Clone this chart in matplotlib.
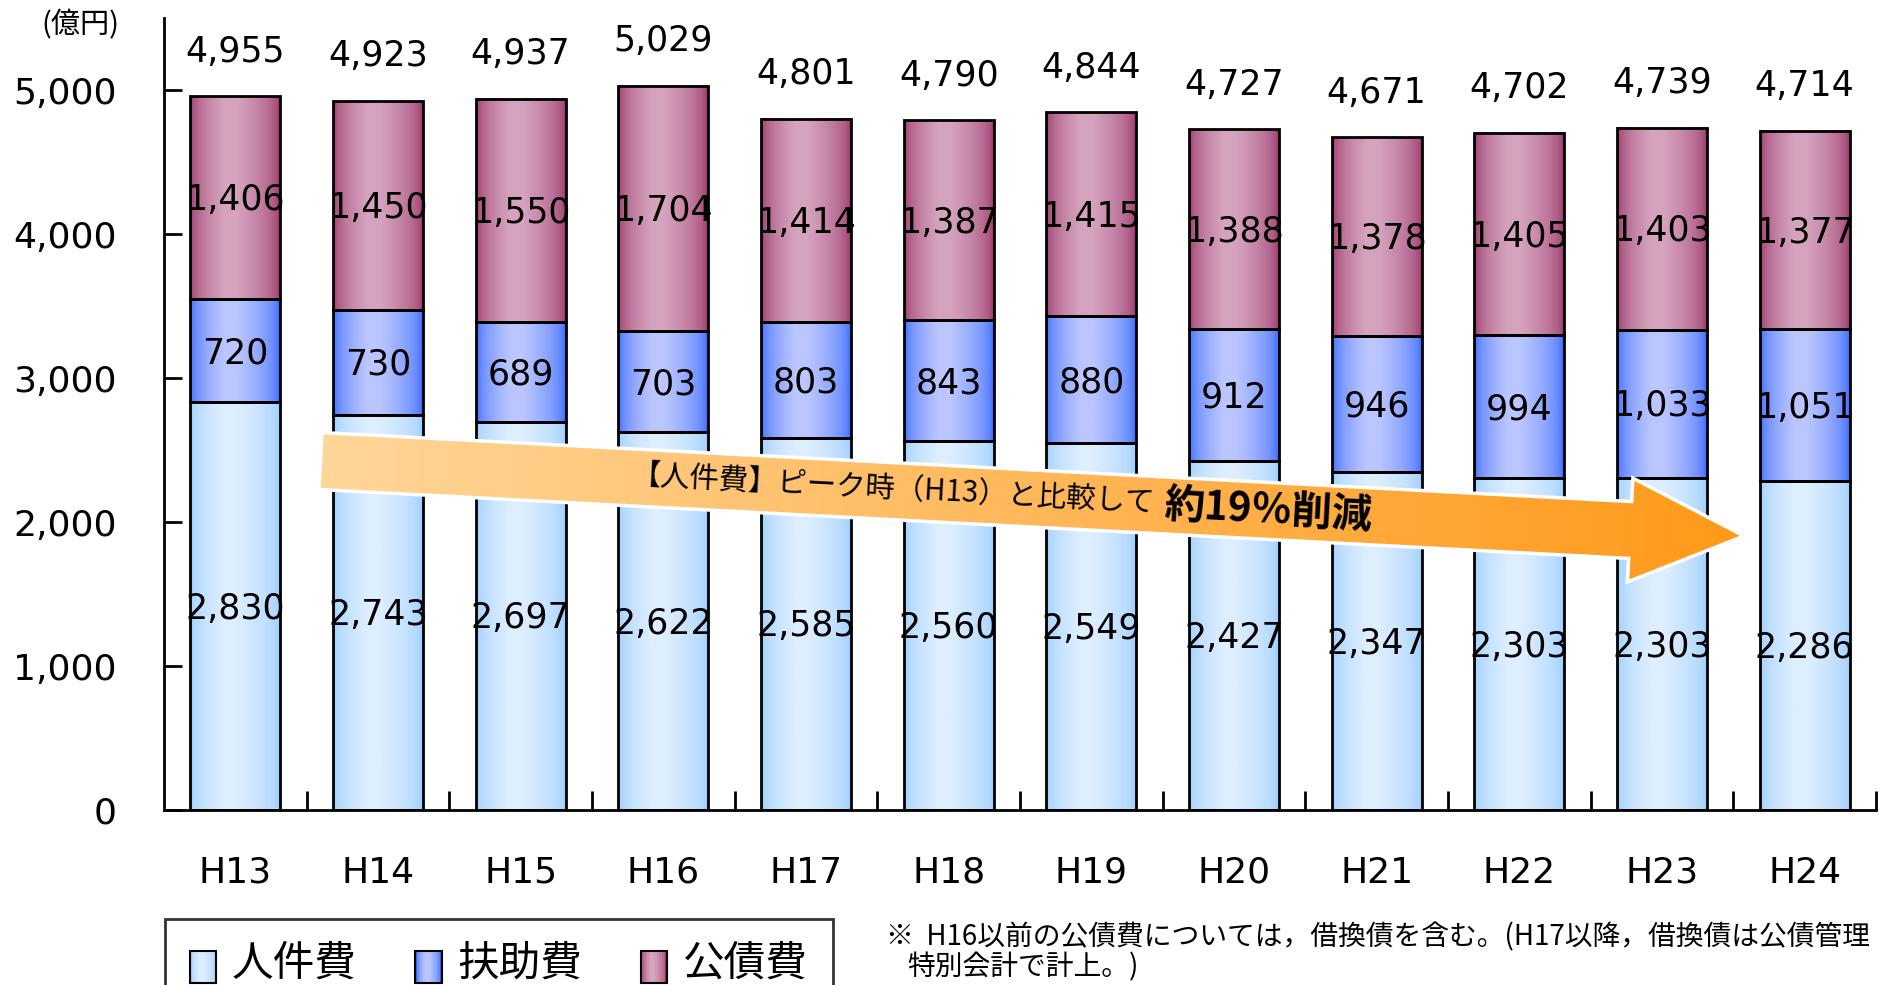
import numpy as np
import matplotlib
matplotlib.use("Agg")
import matplotlib.pyplot as plt
from matplotlib.patches import Rectangle, Polygon
from matplotlib.legend_handler import HandlerBase
from matplotlib.colors import to_rgb

plt.rcParams['font.family'] = ['DejaVu Sans', 'Noto Sans CJK JP']

# data (億円)
years = ['H13', 'H14', 'H15', 'H16', 'H17', 'H18', 'H19', 'H20', 'H21', 'H22', 'H23', 'H24']
jinken = [2830, 2743, 2697, 2622, 2585, 2560, 2549, 2427, 2347, 2303, 2303, 2286]
fujo = [720, 730, 689, 703, 803, 843, 880, 912, 946, 994, 1033, 1051]
kosai = [1406, 1450, 1550, 1704, 1414, 1387, 1415, 1388, 1378, 1405, 1403, 1377]
totals = [4955, 4923, 4937, 5029, 4801, 4790, 4844, 4727, 4671, 4702, 4739, 4714]
names = ['人件費', '扶助費', '公債費']

# gradient colours (edge, centre)
grads = [('#99CCFF', '#DDEEFF'), ('#3366FF', '#BBC6FF'), ('#993366', '#D5A3BE')]


def grad_row(edge, center, n=64):
    e = np.array(to_rgb(edge))
    c = np.array(to_rgb(center))
    t = np.linspace(0, 1, n)
    w = np.interp(t, [0, 0.38, 0.52, 1], [0, 1, 1, 0])
    w = np.sqrt(w)
    return (e[None, :] * (1 - w[:, None]) + c[None, :] * w[:, None])


W, H = 1883, 985
fig = plt.figure(figsize=(W / 100, H / 100), dpi=100)
ax = fig.add_axes([164 / W, 1 - 810 / H, (1876 - 164) / W, (810 - 18) / H])

x = np.arange(len(years))
bottom = np.zeros(len(years))
fs = 25
for vals, (ec, cc) in zip([jinken, fujo, kosai], grads):
    bars = ax.bar(x, vals, 0.63, bottom=bottom, facecolor='none',
                  edgecolor='black', linewidth=2, zorder=3)
    row = grad_row(ec, cc)[None, :, :]
    for p in bars.patches:
        ax.imshow(row, extent=[p.get_x(), p.get_x() + p.get_width(),
                               p.get_y(), p.get_y() + p.get_height()],
                  aspect='auto', interpolation='bilinear', zorder=2)
    for xi, b, v in zip(x, bottom, vals):
        ax.annotate(f'{v:,}', (xi, b + v / 2), xytext=(0, -0.36 * fs),
                    textcoords='offset points', ha='center', va='baseline',
                    fontsize=fs, zorder=4)
    bottom = bottom + np.array(vals)

for xi, t in zip(x, totals):
    ax.annotate(f'{t:,}', (xi, t), xytext=(0, 25), textcoords='offset points',
                ha='center', va='baseline', fontsize=fs)

ax.set_xlim(-0.5, 11.5)
ax.set_ylim(0, 5500)
for s in ['top', 'right']:
    ax.spines[s].set_visible(False)
for s in ['left', 'bottom']:
    ax.spines[s].set_linewidth(2)
ax.set_yticks(range(0, 5001, 1000))
ax.set_yticklabels([f'{v:,}' for v in range(0, 5001, 1000)], fontsize=26)
ax.tick_params(axis='y', direction='in', length=13, width=2, pad=34)
ax.set_xticks(x)
ax.set_xticklabels(years, fontsize=26)
ax.tick_params(axis='x', which='major', length=0, pad=33)
ax.set_xticks(x + 0.5, minor=True)
ax.tick_params(axis='x', which='minor', direction='in', length=14, width=2)

fig.text(80 / W, 1 - 25 / H, '(億円)', ha='center', va='center', fontsize=21,
         family=['Noto Sans CJK JP'])


# legend with gradient swatches
class GradHandler(HandlerBase):
    def __init__(self, edge, center):
        super().__init__()
        self.cols = grad_row(edge, center, 16)

    def create_artists(self, legend, orig_handle, xdescent, ydescent,
                       width, height, fontsize, trans):
        arts = []
        n = len(self.cols)
        for k in range(n):
            arts.append(Rectangle((-xdescent + k * width / n, -ydescent - 4),
                                  width / n + 0.3, height, facecolor=self.cols[k],
                                  edgecolor='none', transform=trans))
        arts.append(Rectangle((-xdescent, -ydescent - 4), width, height, fill=False,
                              edgecolor='black', linewidth=1.5, transform=trans))
        return arts


handles = [Rectangle((0, 0), 1, 1) for _ in names]
leg = fig.legend(handles, names, loc='upper left',
                 bbox_to_anchor=(165 / W, 1 - 919 / H), ncol=3,
                 handler_map={h: GradHandler(*g) for h, g in zip(handles, grads)},
                 prop={'family': ['Noto Sans CJK JP'], 'size': 30},
                 frameon=True, fancybox=False, borderaxespad=0, borderpad=0.6,
                 handlelength=0.63, handleheight=0.8, handletextpad=0.38,
                 columnspacing=1.4)
leg.get_frame().set_edgecolor('black')
leg.get_frame().set_linewidth(2)

fig.text(886 / W, 1 - 937 / H,
         '※  H16以前の公債費については，借換債を含む。(H17以降，借換債は公債管理',
         ha='left', va='center', fontsize=20, family=['Noto Sans CJK JP'])
fig.text(907 / W, 1 - 967 / H, '特別会計で計上。)', ha='left', va='center',
         fontsize=20, family=['Noto Sans CJK JP'])

# arrow overlay in pixel coordinates
ov = fig.add_axes([0, 0, 1, 1])
ov.set_xlim(0, W)
ov.set_ylim(H, 0)
ov.axis('off')
ov.patch.set_visible(False)

start = np.array([320.5, 461.0])
tip = np.array([1744.0, 536.0])
L = np.hypot(*(tip - start))
d = (tip - start) / L
n = np.array([-d[1], d[0]])
bw, hw, hl = 57, 104, 114
local = [(0, -bw / 2), (L - hl, -bw / 2), (L - hl, -hw / 2), (L, 0),
         (L - hl, hw / 2), (L - hl, bw / 2), (0, bw / 2)]
pts = np.array([start + u * d + v * n for u, v in local])
arrow = Polygon(pts, closed=True, facecolor='none', edgecolor='white',
                linewidth=2.5, zorder=3)
ov.add_patch(arrow)
c0 = np.array(to_rgb('#FFD699'))
c1 = np.array(to_rgb('#FF9A1A'))
t = np.linspace(0, 1, 128)[:, None]
row = (c0 * (1 - t) + c1 * t)[None, :, :]
img = ov.imshow(row, extent=[pts[:, 0].min(), pts[:, 0].max(),
                             pts[:, 1].max(), pts[:, 1].min()],
                aspect='auto', interpolation='bilinear', zorder=2)
img.set_clip_path(arrow)
ov.set_xlim(0, W)
ov.set_ylim(H, 0)

ang = -np.degrees(np.arctan2(d[1], d[0]))
ov.text(893, 490, '【人件費】ピーク時（H13）と比較して', rotation=ang,
        rotation_mode='anchor', ha='center', va='center', fontsize=21.2,
        family=['Noto Sans CJK JP'], zorder=4)
ov.text(1268, 511, '約19％削減', rotation=ang, rotation_mode='anchor',
        ha='center', va='center', fontsize=29, fontweight='bold',
        family=['Noto Sans CJK JP'], zorder=4)

fig.savefig('out.png', dpi=100)
